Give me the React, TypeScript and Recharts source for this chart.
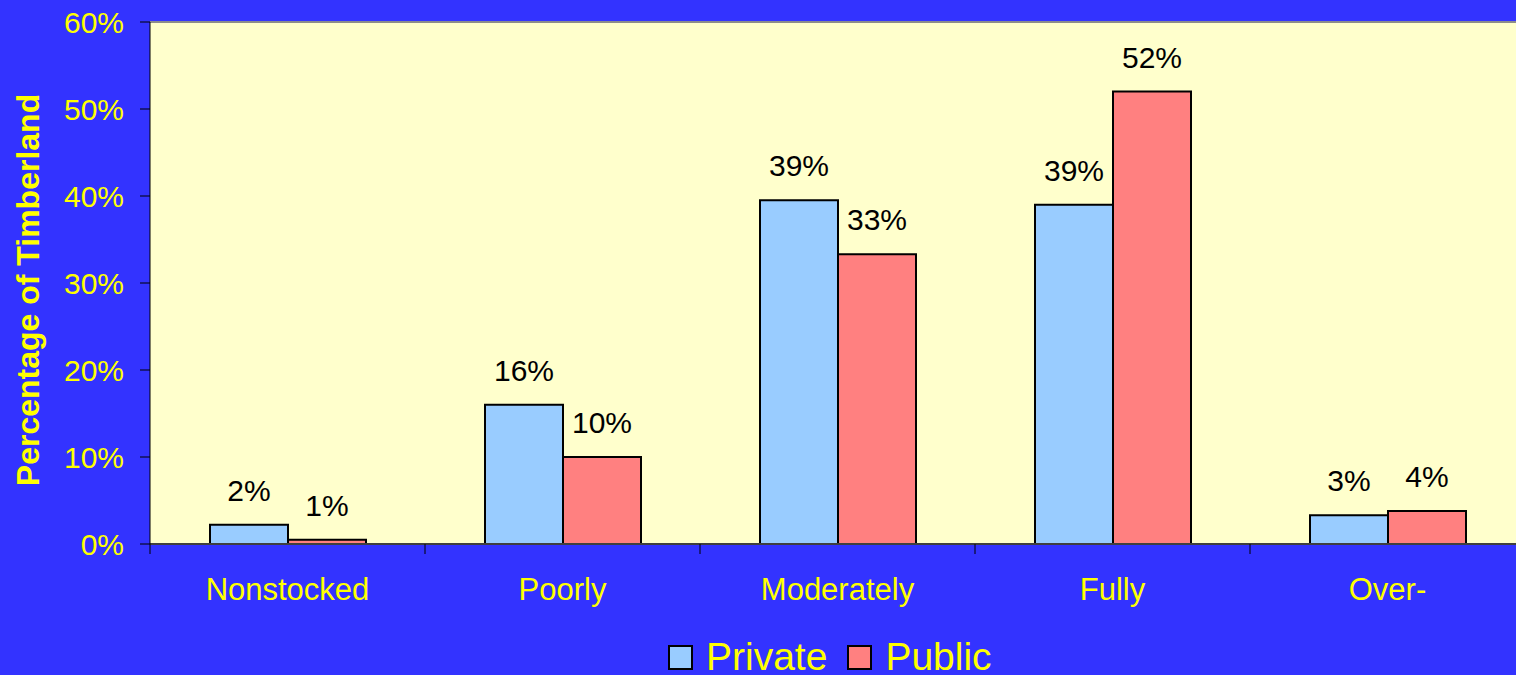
import { BarChart, Bar, XAxis, YAxis, CartesianGrid, Legend, LabelList, ReferenceLine } from 'recharts'

const categories = ['Nonstocked', 'Poorly', 'Moderately', 'Fully', 'Over-']
const privateValues = [2.2, 16.0, 39.5, 39.0, 3.3]
const publicValues = [0.5, 10.0, 33.3, 52.0, 3.8]
const privateLabels = ['2%', '16%', '39%', '39%', '3%']
const publicLabels = ['1%', '10%', '33%', '52%', '4%']
const yTicks = [0, 10, 20, 30, 40, 50, 60]

const data = categories.map((name, i) => ({
  name,
  Private: privateValues[i],
  Public: publicValues[i],
  privateLabel: privateLabels[i],
  publicLabel: publicLabels[i],
}))

const FONT = '"Liberation Sans", Arial, sans-serif'
const YELLOW = '#FFFF00'
const X_TICK_MARGIN = 35

// category label plus the small tick mark on the left boundary of each category
function CategoryTick(props: any) {
  const { x, y, payload } = props
  const half = payload.offset ?? 137.5
  const axisY = y - X_TICK_MARGIN
  return (
    <g>
      <line x1={x - half} x2={x - half} y1={axisY} y2={axisY + 10} stroke="#000" strokeWidth={1} />
      <text x={x} y={y + 21} textAnchor="middle" fill={YELLOW} fontSize={31} fontFamily={FONT}>
        {payload.value}
      </text>
    </g>
  )
}

function YTitle(props: any) {
  const vb = props.viewBox || { x: 0, y: 22, width: 150, height: 522 }
  const cx = vb.x + 39
  const cy = vb.y + vb.height / 2 + 7
  return (
    <text
      x={cx}
      y={cy}
      transform={`rotate(-90 ${cx} ${cy})`}
      textAnchor="middle"
      fill={YELLOW}
      fontSize={32}
      fontWeight="bold"
      fontFamily={FONT}
    >
      Percentage of Timberland
    </text>
  )
}

function LegendContent(props: any) {
  const items = props.payload || []
  return (
    <div style={{ display: 'flex', alignItems: 'center', height: 38, fontFamily: FONT }}>
      {items.map((it: any, i: number) => (
        <div key={it.value} style={{ display: 'flex', alignItems: 'center', marginLeft: i === 0 ? 0 : 20 }}>
          <span
            style={{
              display: 'inline-block',
              width: 21,
              height: 21,
              background: it.color,
              border: '2px solid #000',
              marginRight: 13,
            }}
          />
          <span style={{ color: YELLOW, fontSize: 39, lineHeight: '38px' }}>{it.value}</span>
        </div>
      ))}
    </div>
  )
}

export default function App() {
  return (
    <div
      style={{
        position: 'absolute',
        left: 0,
        top: 0,
        width: 1516,
        height: 675,
        overflow: 'hidden',
        background: '#3333FF',
      }}
    >
      <BarChart
        width={1530}
        height={675}
        data={data}
        margin={{ top: 22, right: 5, left: 0, bottom: 0 }}
        barGap={0}
        barSize={78}
      >
        <CartesianGrid fill="#FFFFCC" horizontal={false} vertical={false} />
        <XAxis
          dataKey="name"
          height={131}
          tickSize={0}
          tickMargin={X_TICK_MARGIN}
          axisLine={{ stroke: '#404040', strokeWidth: 2 }}
          tick={<CategoryTick />}
          interval={0}
        />
        <YAxis
          width={150}
          domain={[0, 60]}
          ticks={yTicks}
          tickFormatter={(v: number) => `${v}%`}
          tickSize={10}
          tickMargin={16}
          tickLine={{ stroke: '#000' }}
          axisLine={{ stroke: '#000' }}
          tick={{ fill: YELLOW, fontSize: 30, fontFamily: FONT }}
          label={{ content: <YTitle /> }}
        />
        <ReferenceLine y={60} stroke="#8c8c8c" strokeWidth={2} />
        <Legend
          verticalAlign="middle"
          align="center"
          layout="horizontal"
          wrapperStyle={{ left: 668, top: 638, width: 440 }}
          content={<LegendContent />}
        />
        <Bar dataKey="Private" fill="#99CCFF" stroke="#000" strokeWidth={2} isAnimationActive={false}>
          <LabelList dataKey="privateLabel" position="top" offset={24} fill="#000" fontSize={30} fontFamily={FONT} />
        </Bar>
        <Bar dataKey="Public" fill="#FF8080" stroke="#000" strokeWidth={2} isAnimationActive={false}>
          <LabelList dataKey="publicLabel" position="top" offset={24} fill="#000" fontSize={30} fontFamily={FONT} />
        </Bar>
      </BarChart>
    </div>
  )
}
